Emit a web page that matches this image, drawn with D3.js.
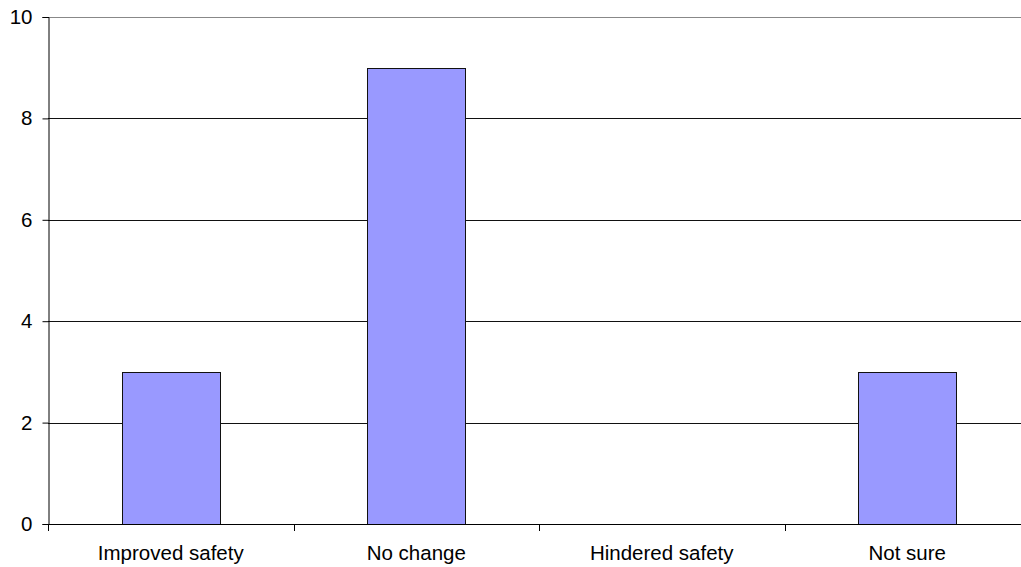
<!DOCTYPE html>
<html><head><meta charset="utf-8">
<script src="https://cdn.jsdelivr.net/npm/d3@7"></script>
<style>body{margin:0;background:#fff}svg{display:block}</style>
</head><body>
<svg id="c" width="1021" height="567"></svg>
<script>
const categories = ["Improved safety", "No change", "Hindered safety", "Not sure"];
const values = [3, 9, 0, 3];
const yTicks = [0, 2, 4, 6, 8, 10];

(function () {
const svg = d3.select("#c");
const pLeft = 48, pRight = 1030, pTop = 17, pBottom = 524;
const x = d3.scaleBand().domain(categories).range([pLeft, pRight]).paddingInner(0.6).paddingOuter(0.3);
const xb = d3.scaleBand().domain(categories).range([pLeft, pRight]);
const y = d3.scaleLinear().domain([0, 10]).range([pBottom, pTop]);
const font = "Liberation Sans, Arial, sans-serif";

// gridlines
svg.append("g").selectAll("line").data(yTicks.filter(d => d > 0)).join("line")
  .attr("x1", pLeft).attr("x2", pRight)
  .attr("y1", d => Math.round(y(d)) + 0.5).attr("y2", d => Math.round(y(d)) + 0.5)
  .attr("stroke", d => d === 10 ? "#888" : "#111").attr("stroke-width", 1);

// bars
svg.append("g").selectAll("rect").data(values.map((v, i) => ({c: categories[i], v}))).join("rect")
  .attr("x", d => Math.round(x(d.c)) + 0.5)
  .attr("y", d => Math.round(y(d.v)) + 0.5)
  .attr("width", Math.round(x.bandwidth()))
  .attr("height", d => Math.round(y(0)) - Math.round(y(d.v)))
  .attr("fill", "#9999FF").attr("stroke", d => d.v > 0 ? "#111" : "none").attr("stroke-width", 1);

// y axis
const ya = svg.append("g").attr("transform", `translate(${pLeft + 0.5},0)`)
  .call(d3.axisLeft(y).tickValues(yTicks).tickSize(6).tickPadding(10).tickFormat(d3.format("d")));
ya.selectAll("path").attr("stroke", "#000");
ya.selectAll("line").attr("stroke", "#000");
ya.selectAll("text").attr("font-family", font).attr("font-size", "20.5px").attr("fill", "#000");

// x axis
const xa = svg.append("g").attr("transform", `translate(0,${Math.round(pBottom) + 0.5})`)
  .call(d3.axisBottom(xb).tickSize(0).tickPadding(21));
xa.select("path").attr("stroke", "#000").attr("d", `M${pLeft},0H${pRight}`);
xa.selectAll("text").attr("font-family", font).attr("font-size", "20.5px").attr("fill", "#000");
// x ticks at band boundaries
svg.append("g").selectAll("line").data(categories).join("line")
  .attr("x1", d => Math.round(xb(d)) + 0.5).attr("x2", d => Math.round(xb(d)) + 0.5)
  .attr("y1", pBottom).attr("y2", pBottom + 7).attr("stroke", "#000");
})();
</script>
</body></html>
